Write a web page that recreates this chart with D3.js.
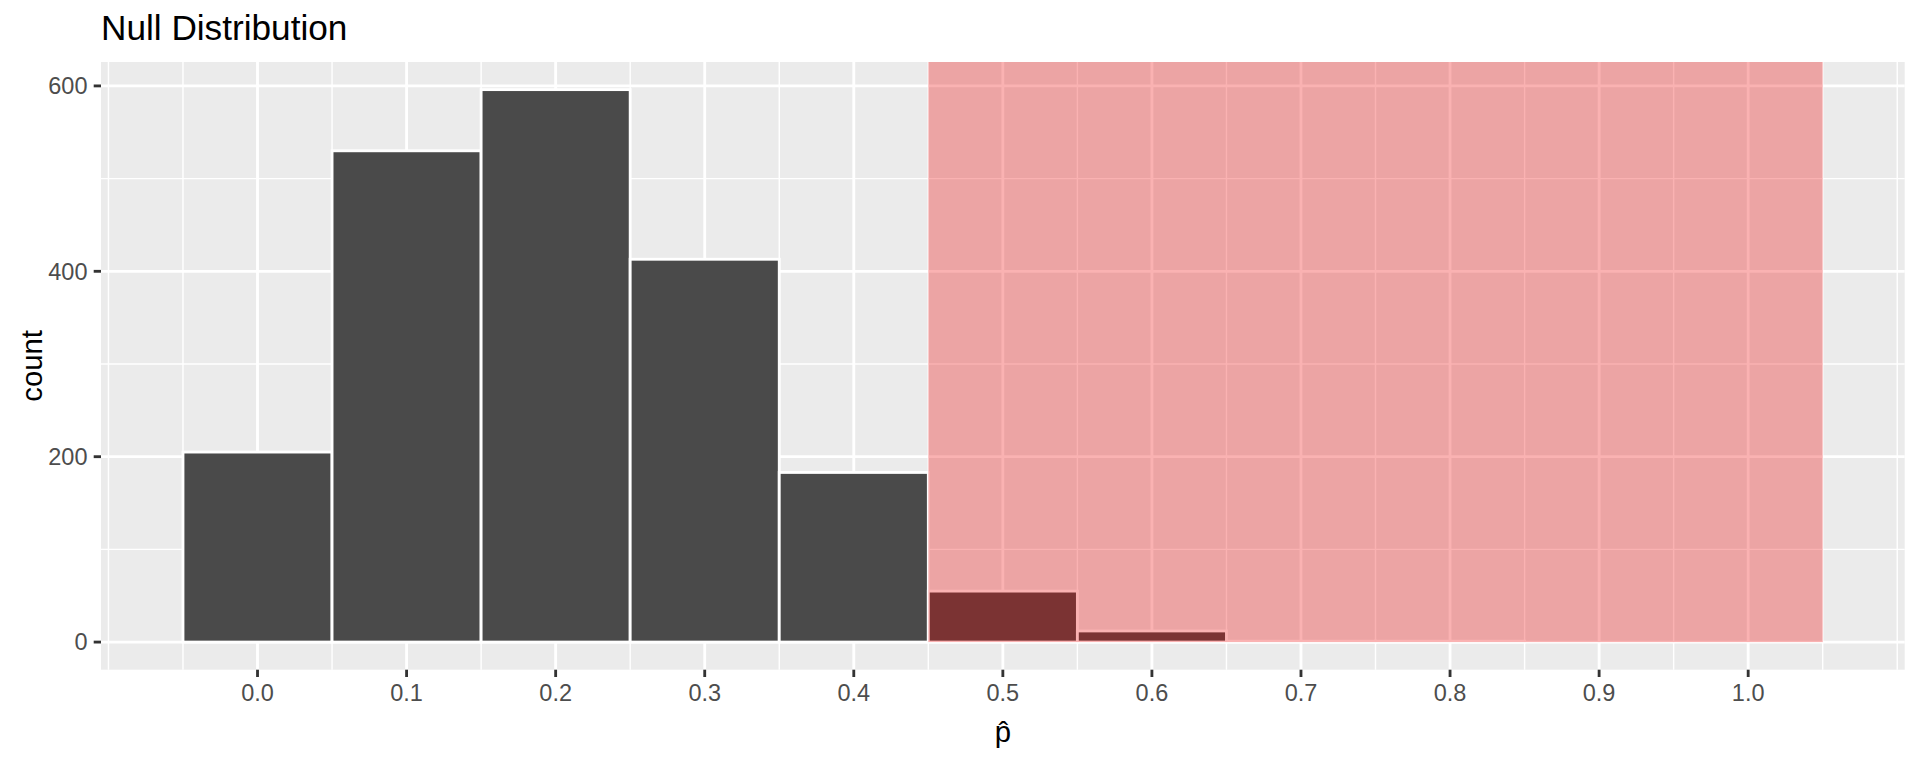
<!DOCTYPE html>
<html>
<head>
<meta charset="utf-8">
<script src="https://cdn.jsdelivr.net/npm/d3@7"></script>
<style>
  body { margin: 0; background: #fff; }
  text { font-family: "Liberation Sans", Arial, Helvetica, sans-serif; }
</style>
</head>
<body>
<div id="graph"></div>
<script>
// histogram bins (centers) and counts
var binCenters = [0.0, 0.1, 0.2, 0.3, 0.4, 0.5, 0.6, 0.7, 0.8, 0.9, 1.0];
var binCounts = [205, 530, 596, 413, 183, 55, 12, 1, 1, 0, 0];
var binWidth = 0.1;
var xTicks = [0.0, 0.1, 0.2, 0.3, 0.4, 0.5, 0.6, 0.7, 0.8, 0.9, 1.0];
var yTicks = [0, 200, 400, 600];
var yMinor = [100, 300, 500];
var shadeFrom = 0.45;
var shadeTo = 1.05;
var titleText = "Null Distribution";
var xTitle = "p\u0302";
var yTitle = "count";

var width = 1920, height = 768;
var panel = { left: 101, right: 1904.7, top: 62, bottom: 669.7 };

var svg = d3.select("#graph").append("svg")
  .attr("width", width)
  .attr("height", height);

// ggplot style 5% expansion
var xlo = d3.min(binCenters) - binWidth / 2,
  xhi = d3.max(binCenters) + binWidth / 2,
  xpad = (xhi - xlo) * 0.05;
var ymax = d3.max(binCounts),
  ypad = ymax * 0.05;

var x = d3.scaleLinear().domain([xlo - xpad, xhi + xpad]).range([panel.left, panel.right]);
var y = d3.scaleLinear().domain([-ypad, ymax + ypad]).range([panel.bottom, panel.top]);

var xMinor = d3.range(-2, 23).map(function (i) { return i * 0.05; });

svg.append("rect")
  .attr("x", panel.left)
  .attr("y", panel.top)
  .attr("width", panel.right - panel.left)
  .attr("height", panel.bottom - panel.top)
  .attr("fill", "#EBEBEB");

var grid = svg.append("g");
grid.selectAll("line.xminor").data(xMinor).enter().append("line")
  .attr("class", "xminor")
  .attr("x1", function (d) { return x(d); })
  .attr("x2", function (d) { return x(d); })
  .attr("y1", panel.top).attr("y2", panel.bottom)
  .attr("stroke", "#fff").attr("stroke-width", 1.42);
grid.selectAll("line.yminor").data(yMinor).enter().append("line")
  .attr("class", "yminor")
  .attr("y1", function (d) { return y(d); })
  .attr("y2", function (d) { return y(d); })
  .attr("x1", panel.left).attr("x2", panel.right)
  .attr("stroke", "#fff").attr("stroke-width", 1.42);
grid.selectAll("line.xmajor").data(xTicks).enter().append("line")
  .attr("class", "xmajor")
  .attr("x1", function (d) { return x(d); })
  .attr("x2", function (d) { return x(d); })
  .attr("y1", panel.top).attr("y2", panel.bottom)
  .attr("stroke", "#fff").attr("stroke-width", 2.84);
grid.selectAll("line.ymajor").data(yTicks).enter().append("line")
  .attr("class", "ymajor")
  .attr("y1", function (d) { return y(d); })
  .attr("y2", function (d) { return y(d); })
  .attr("x1", panel.left).attr("x2", panel.right)
  .attr("stroke", "#fff").attr("stroke-width", 2.84);

// bars
var bins = binCenters.map(function (c, i) {
  return { x0: c - binWidth / 2, x1: c + binWidth / 2, n: binCounts[i] };
});
svg.append("g").selectAll("rect").data(bins).enter().append("rect")
  .attr("x", function (d) { return x(d.x0); })
  .attr("width", function (d) { return x(d.x1) - x(d.x0); })
  .attr("y", function (d) { return y(d.n); })
  .attr("height", function (d) { return y(0) - y(d.n); })
  .attr("fill", "#4A4A4A")
  .attr("stroke", "#fff")
  .attr("stroke-width", 2.84);

// p-value shading
svg.append("rect")
  .attr("x", x(shadeFrom))
  .attr("width", x(shadeTo) - x(shadeFrom))
  .attr("y", panel.top)
  .attr("height", y(0) - panel.top)
  .attr("fill", "#EE0000")
  .attr("fill-opacity", 0.3);

// axes
var xAxis = svg.append("g");
xAxis.selectAll("line").data(xTicks).enter().append("line")
  .attr("x1", function (d) { return x(d); })
  .attr("x2", function (d) { return x(d); })
  .attr("y1", panel.bottom).attr("y2", panel.bottom + 7.3)
  .attr("stroke", "#333").attr("stroke-width", 2.84);
xAxis.selectAll("text").data(xTicks).enter().append("text")
  .attr("x", function (d) { return x(d); })
  .attr("y", 701)
  .attr("text-anchor", "middle")
  .attr("font-size", 23.5)
  .attr("fill", "#4D4D4D")
  .text(function (d) { return d3.format(".1f")(d); });

var yAxis = svg.append("g");
yAxis.selectAll("line").data(yTicks).enter().append("line")
  .attr("y1", function (d) { return y(d); })
  .attr("y2", function (d) { return y(d); })
  .attr("x1", panel.left - 7.3).attr("x2", panel.left)
  .attr("stroke", "#333").attr("stroke-width", 2.84);
yAxis.selectAll("text").data(yTicks).enter().append("text")
  .attr("x", 87.5)
  .attr("y", function (d) { return y(d) + 8.4; })
  .attr("text-anchor", "end")
  .attr("font-size", 23.5)
  .attr("fill", "#4D4D4D")
  .text(function (d) { return d; });

// titles
svg.append("text")
  .attr("x", 101)
  .attr("y", 40)
  .attr("font-size", 35.2)
  .attr("fill", "#000")
  .text(titleText);

svg.append("text")
  .attr("x", (panel.left + panel.right) / 2)
  .attr("y", 742)
  .attr("text-anchor", "middle")
  .attr("font-size", 29.3)
  .text(xTitle);

svg.append("text")
  .attr("transform", "translate(42," + ((panel.top + panel.bottom) / 2) + ") rotate(-90)")
  .attr("text-anchor", "middle")
  .attr("font-size", 29.3)
  .text(yTitle);
</script>
</body>
</html>
